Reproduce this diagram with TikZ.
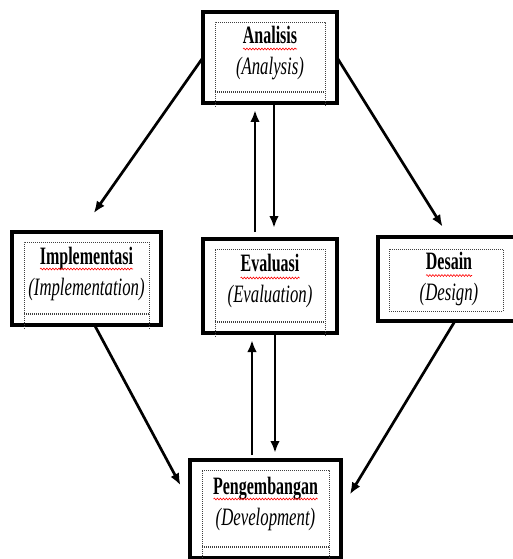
\documentclass[tikz,border=0pt]{standalone}
\usepackage{fontspec}
\setmainfont{Liberation Serif}
\usetikzlibrary{arrows.meta, positioning, decorations.pathmorphing}

\newcommand{\stagetext}[3][15pt]{\scalebox{0.64}[1]{\bfseries #2}\\\scalebox{0.67}[1]{\itshape(#3)}\rule[-#1]{0pt}{#1}}

\begin{document}
\begin{tikzpicture}[
                x = 1pt, y = -1pt,
                every node/.style={outer sep=0pt},
                stage/.style={rectangle, draw, line width=4pt, align=center, inner sep=0pt,
                    font=\fontsize{25}{31}\selectfont},
                frame/.style={line width=0.8pt, black!75, dash pattern=on 1pt off 1pt},
                spell/.style={red, line width=0.6pt, decorate,
                    decoration={snake, amplitude=0.9pt, segment length=3pt}},
                line/.style={line width=2.7pt, -{Latex[length=12pt,width=9.5pt]}}
            ]
            \useasboundingbox (0,0) rectangle (512,559);

            \node[stage, minimum width=134pt, minimum height=91pt] (A) at (270,57.5) {\stagetext{Analisis}{Analysis}};
            \node[stage, minimum width=149pt, minimum height=93pt] (I) at (86.5,278.5) {\stagetext{Implementasi}{Implementation}};
            \node[stage, minimum width=134pt, minimum height=94pt] (E) at (270,286) {\stagetext{Evaluasi}{Evaluation}};
            \node[stage, minimum width=142pt, minimum height=84pt] (D) at (449,279) {\stagetext[0pt]{Desain}{Design}};
            \node[stage, minimum width=151pt, minimum height=98pt] (P) at (265.5,509) {\stagetext{Pengembangan}{Development}};

            % dotted text box frames
            \foreach \s in {A,I,E,P} {
                \draw[frame] ([shift={(12,4)}]\s.south west) -- ([shift={(12,10)}]\s.north west)
                    -- ([shift={(-12,10)}]\s.north east) -- ([shift={(-12,4)}]\s.south east);
                \draw[frame] ([shift={(12,-12)}]\s.south west) -- ([shift={(-12,-12)}]\s.south east);
                \draw[frame] ([shift={(12,-10.5)}]\s.south west) -- ([shift={(-12,-10.5)}]\s.south east);
            }
            \draw[frame] ([shift={(11,12)}]D.north west) rectangle ([shift={(-17,-10)}]D.south east);

            % spelling marks
            \foreach \s/\w/\d in {A/54/-8.5, I/93/-9.5, E/59/-8, D/46/-3.5, P/104/-10} {
                \draw[spell] ([shift={(-\w/2,\d)}]\s.center) -- ++(\w,0);
            }

            \draw[line, shorten >=23pt] (A.west) -- ([xshift=-6pt]I.north);
            \draw[line, shorten >=12pt] (A.east) -- (D.north);
            \draw[line, shorten <=7pt, shorten >=7pt] ([xshift=-15pt]E.north) -- ([xshift=-15pt]A.south);
            \draw[line, shorten >=11pt] ([xshift=4pt]A.south) -- ([xshift=4pt]E.north);
            \draw[line, shorten <=5pt, shorten >=7pt] ([xshift=-18pt]E.south |- P.north) -- ([xshift=-18pt]E.south);
            \draw[line, shorten >=7pt] ([xshift=5pt]E.south) -- ([xshift=5pt]E.south |- P.north);
            \draw[line, shorten >=20pt] ([xshift=8pt]I.south) -- ([yshift=6pt]P.west);
            \draw[line, shorten >=17pt] ([xshift=6pt]D.south) -- (P.east);
        \end{tikzpicture}
\end{document}
